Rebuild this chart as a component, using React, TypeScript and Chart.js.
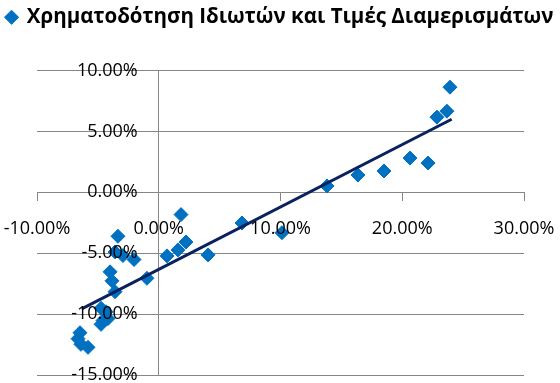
import React, { useEffect, useRef } from "react";
import { Chart, registerables } from "chart.js";

Chart.register(...registerables);

const seriesName = "Χρηματοδότηση Ιδιωτών και Τιμές Διαμερισμάτων";

// x: credit growth (%), y: apartment price change (%)
const xValues = [
  -6.47, -6.63, -6.39, -5.81, -4.74, -4.33, -4.58, -4.17, -4.74, -3.59, -3.84,
  -4.0, -3.35, -3.59, -2.94, -2.03, -0.97, 0.68, 1.58, 2.24, 1.83, 4.05, 6.84,
  10.12, 13.82, 16.36, 18.5, 20.64, 22.12, 22.85, 23.67, 23.92,
];
const yValues = [
  -11.53, -12.02, -12.48, -12.73, -9.52, -9.81, -10.53, -10.37, -10.84, -8.16,
  -7.27, -6.53, -3.61, -4.9, -5.19, -5.52, -7.06, -5.22, -4.73, -4.08, -1.83,
  -5.14, -2.52, -3.32, 0.52, 1.42, 1.75, 2.81, 2.4, 6.17, 6.66, 8.63,
];

// linear trend line end points
const trendX = [-6.33, 24.06];
const trendY = [-9.57, 6.0];

const xTicks = { min: -10, max: 30, step: 10 };
const yTicks = { min: -15, max: 10, step: 5 };

const gridColor = "#868686";
const pointColor = "#0070C0";
const trendColor = "#0A2160";

const fmt = (v: number | string) => Number(v).toFixed(2) + "%";

const legendGap = {
  id: "legendGap",
  beforeInit(chart: any) {
    const legend = chart.legend;
    if (!legend) return;
    const origFit = legend.fit;
    legend.fit = function () {
      origFit.call(this);
      this.height += 33;
    };
  },
};

const yLabelShift = {
  id: "yLabelShift",
  afterLayout(chart: any) {
    const s = chart.scales.y;
    if (!s || s.__shifted) return;
    const orig = s.drawLabels;
    s.drawLabels = function (area: any) {
      const ctx = this.ctx;
      ctx.save();
      ctx.translate(-21, 0);
      orig.call(this, area);
      ctx.restore();
    };
    s.__shifted = true;
  },
};

export default function App() {
  const ref = useRef<HTMLCanvasElement | null>(null);

  useEffect(() => {
    if (!ref.current) return;
    const points = xValues.map((x, i) => ({ x, y: yValues[i] }));
    const trend = trendX.map((x, i) => ({ x, y: trendY[i] }));
    const tickFont = { family: "'Open Sans', sans-serif", size: 18 };
    const chart = new Chart(ref.current, {
      type: "scatter",
      data: {
        datasets: [
          {
            label: seriesName,
            data: points,
            pointStyle: "rectRot",
            pointRadius: 7,
            pointHoverRadius: 7,
            backgroundColor: pointColor,
            borderColor: pointColor,
            borderWidth: 1,
            order: 2,
          },
          {
            type: "line",
            label: "trend",
            data: trend,
            borderColor: trendColor,
            borderWidth: 3,
            pointRadius: 0,
            fill: false,
            order: 1,
          } as any,
        ],
      },
      plugins: [legendGap, yLabelShift],
      options: {
        animation: false,
        responsive: true,
        maintainAspectRatio: false,
        layout: { padding: { left: 0, right: 0, top: 0, bottom: 7 } },
        plugins: {
          tooltip: { enabled: false },
          legend: {
            display: true,
            position: "top",
            labels: {
              filter: (item) => item.text !== "trend",
              usePointStyle: true,
              boxWidth: 10,
              boxHeight: 10,
              color: "#000",
              padding: 7,
              font: { family: "'Open Sans', sans-serif", size: 20.5, weight: "bold" },
            },
          },
        },
        scales: {
          x: {
            type: "linear",
            position: { y: 0 } as any,
            min: xTicks.min,
            max: xTicks.max,
            ticks: {
              stepSize: xTicks.step,
              callback: (v) => fmt(v),
              color: "#000",
              font: tickFont,
              padding: 18,
              maxRotation: 0,
              z: 1,
            },
            grid: {
              drawOnChartArea: false,
              drawTicks: true,
              tickLength: 8,
              color: gridColor,
            },
            border: { display: true, color: gridColor },
            afterFit: (s: any) => {
              s.paddingLeft = 37;
              s.paddingRight = 36;
              s.paddingTop = 0;
              s.paddingBottom = 0;
            },
          },
          y: {
            type: "linear",
            position: { x: 0 } as any,
            min: yTicks.min,
            max: yTicks.max,
            ticks: {
              stepSize: yTicks.step,
              callback: (v) => fmt(v),
              color: "#000",
              font: tickFont,
              padding: 12,
              z: 1,
            },
            grid: {
              color: gridColor,
              drawTicks: true,
              tickLength: 8,
            },
            border: { display: true, color: gridColor },
            afterFit: (s: any) => {
              s.paddingLeft = 0;
              s.paddingRight = 0;
              s.paddingTop = 0;
              s.paddingBottom = 0;
            },
          },
        },
      },
    });
    return () => chart.destroy();
  }, []);

  return (
    <div style={{ position: "absolute", left: 0, top: 0, width: 560, height: 383, background: "#fff" }}>
      <canvas ref={ref} />
    </div>
  );
}
